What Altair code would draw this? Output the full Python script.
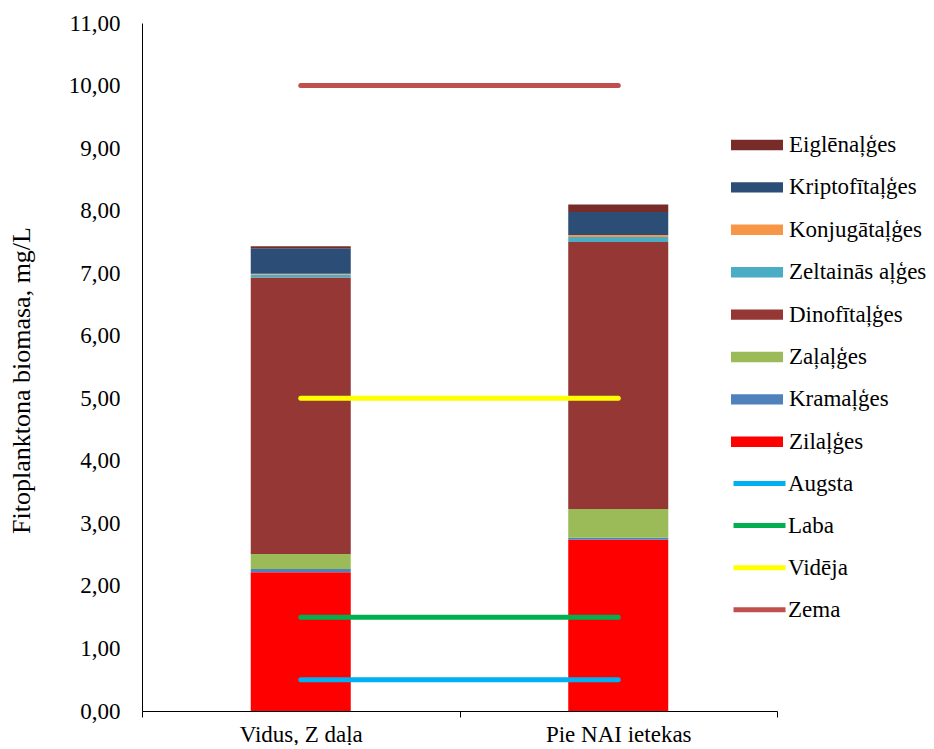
import altair as alt
import pandas as pd

categories = ["Vidus, Z daļa", "Pie NAI ietekas"]

# stacked groups, bottom to top
groups = ["Zilaļģes", "Kramaļģes", "Zaļaļģes", "Dinofītaļģes",
          "Zeltainās aļģes", "Konjugātaļģes", "Kriptofītaļģes", "Eiglēnaļģes"]
zilalges = [2.22, 2.74]
kramalges = [0.05, 0.03]
zalalges = [0.24, 0.46]
dinofitalges = [4.42, 4.27]
zeltainas_alges = [0.05, 0.08]
konjugatalges = [0.01, 0.03]
kriptofitalges = [0.41, 0.37]
eiglenalges = [0.03, 0.12]
group_colors = ["#FF0000", "#4F81BD", "#9BBB59", "#953735",
                "#4BACC6", "#F79646", "#2C4D75", "#772C2A"]

levels = ["Augsta", "Laba", "Vidēja", "Zema"]
level_values = [0.5, 1.5, 5.0, 10.0]
level_colors = ["#00B0F0", "#00B050", "#FFFF00", "#C0504D"]

y_ticks = [0, 1, 2, 3, 4, 5, 6, 7, 8, 9, 10, 11]

series = [zilalges, kramalges, zalalges, dinofitalges,
          zeltainas_alges, konjugatalges, kriptofitalges, eiglenalges]

bar_rows = []
for gi, (g, vals) in enumerate(zip(groups, series)):
    for c, v in zip(categories, vals):
        bar_rows.append({"cat": c, "group": g, "value": v, "ord": gi})
bars_df = pd.DataFrame(bar_rows)

line_rows = []
for lv, val in zip(levels, level_values):
    for c in categories:
        line_rows.append({"cat": c, "level": lv, "value": val})
lines_df = pd.DataFrame(line_rows)

FONT = "'Liberation Serif', 'Times New Roman', 'DejaVu Serif', serif"
FS = 23

legend_order = list(reversed(groups))
legend_colors = list(reversed(group_colors))

x_enc = alt.X(
    "cat:N", sort=categories,
    scale=alt.Scale(paddingInner=0, paddingOuter=0),
    axis=alt.Axis(title=None, labelAngle=0, tickBand="extent", tickSize=6,
                  tickColor="#000000", domainColor="#000000", labelColor="#000000",
                  labelFont=FONT, labelFontSize=FS, labelPadding=6, grid=False),
)
y_enc = alt.Y(
    "value:Q", stack="zero",
    scale=alt.Scale(domain=[0, 11], nice=False),
    axis=alt.Axis(title="Fitoplanktona biomasa, mg/L", values=y_ticks,
                  labelExpr="replace(format(datum.value, '.2f'), '.', ',')",
                  grid=False, ticks=False, tickSize=0, domainColor="#000000",
                  labelColor="#000000", labelFont=FONT, labelFontSize=FS,
                  labelPadding=22, titleFont=FONT, titleFontSize=26,
                  titleFontWeight="normal", titleColor="#000000",
                  titleX=-113, titleY=357, titleBaseline="alphabetic"),
)

bars = alt.Chart(bars_df).mark_bar(width=alt.RelativeBandSize(0.315)).encode(
    x=x_enc,
    y=y_enc,
    color=alt.Color(
        "group:N",
        scale=alt.Scale(domain=legend_order, range=legend_colors),
        legend=alt.Legend(
            title=None, orient="none", legendX=589, legendY=96, padding=0,
            symbolType="M-1,-0.2H1V0.2H-1Z", symbolSize=2704, symbolStrokeWidth=0,
            labelFont=FONT, labelFontSize=FS, labelColor="#000000",
            labelOffset=6, rowPadding=4.4, labelLimit=300,
        ),
    ),
    order=alt.Order("ord:Q", sort="ascending"),
)

lines = alt.Chart(lines_df).mark_line(strokeWidth=5, strokeCap="round").encode(
    x=alt.X("cat:N", sort=categories),
    y=alt.Y("value:Q"),
    stroke=alt.Stroke(
        "level:N",
        scale=alt.Scale(domain=levels, range=level_colors),
        legend=alt.Legend(
            title=None, orient="none", legendX=589, legendY=432, padding=0,
            symbolType="stroke", symbolSize=2704, symbolStrokeWidth=5,
            labelFont=FONT, labelFontSize=FS, labelColor="#000000",
            labelOffset=0, rowPadding=1.1, labelLimit=300,
        ),
    ),
)

chart = alt.layer(bars, lines).properties(
    width=635, height=688,
    padding={"left": 134, "top": 15, "right": 149, "bottom": 34},
    autosize=alt.AutoSizeParams(type="none"),
    background="white",
).configure_view(stroke=None)

chart.save("out.html", embed_options={"renderer": "svg", "actions": False})
